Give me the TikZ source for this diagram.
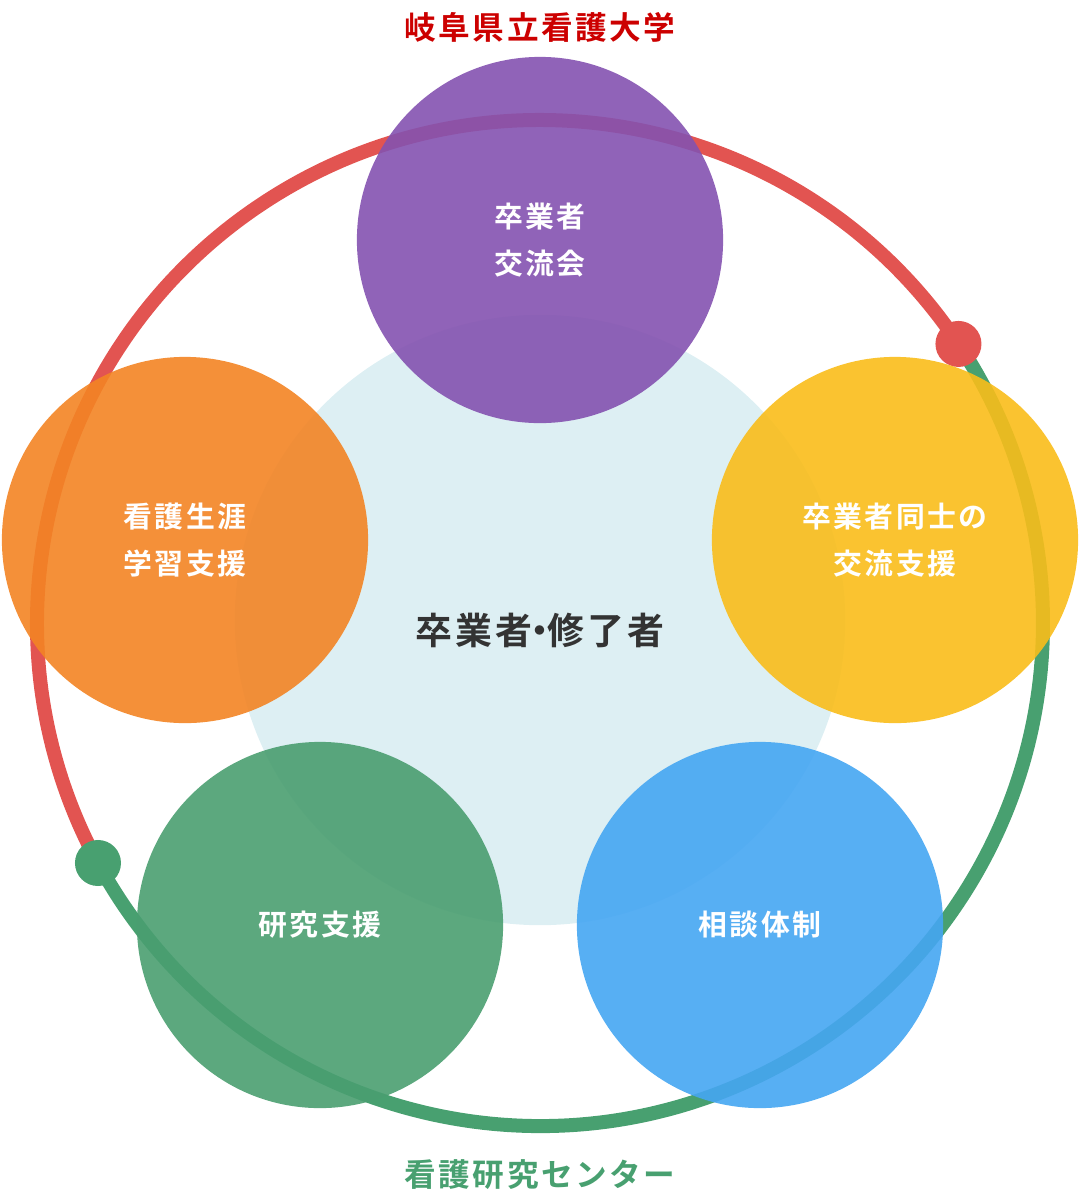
\documentclass[tikz,border=0pt]{standalone}
\usepackage{fontspec}
\setmainfont{Noto Sans CJK JP}[BoldFont={Noto Sans CJK JP Bold}, LetterSpace=8]
\usepackage{tikz}
\definecolor{ringred}{HTML}{E25451}
\definecolor{ringgreen}{HTML}{48A070}
\definecolor{pale}{HTML}{DDEFF3}
\definecolor{cpurple}{HTML}{8452B0}
\definecolor{corange}{HTML}{F38424}
\definecolor{cyellow}{HTML}{F9BD1A}
\definecolor{cgreen}{HTML}{4A9E70}
\definecolor{cblue}{HTML}{45A6F2}
\tikzset{
    bubble/.style = {circle, minimum size = 3.66cm, inner sep = 0pt,
        fill opacity = 0.9, text opacity = 1, text = white,
        align = center, font = \bfseries\fontsize{8.2}{13.5}\selectfont},
    ring/.style = {line width = 0.14cm},
    dot/.style = {circle, minimum size = 0.46cm, inner sep = 0pt}
}
\begin{document}
\begin{tikzpicture}[x=0.01cm, y=-0.01cm]
    \useasboundingbox (0,0) rectangle (1080,1202);

    \node[circle, fill = pale, minimum size = 6.1cm] (core) at (540,620) {};

    % outer ring
    \coordinate (ringc) at (540,623);
    \draw[ring, ringred] ([shift={(-33.7:503)}]ringc) arc[start angle = -33.7, end angle = -208.5, radius = 503];
    \draw[ring, ringgreen] ([shift={(-208.5:503)}]ringc) arc[start angle = -208.5, end angle = -393.7, radius = 503];
    \node[dot, fill = ringred] (dotA) at ([shift={(-33.7:503)}]ringc) {};
    \node[dot, fill = ringgreen] (dotB) at ([shift={(-208.5:503)}]ringc) {};

    \node[bubble, fill = cpurple] (meet) at (540,240) {卒業者\\交流会};
    \node[bubble, fill = corange] (learn) at (185,540) {看護生涯\\学習支援};
    \node[bubble, fill = cyellow] (peer) at (895,540) {卒業者同士の\\交流支援};
    \node[bubble, fill = cgreen] (research) at (320,925) {研究支援};
    \node[bubble, fill = cblue] (consult) at (760,925) {相談体制};

    \node[font = \bfseries\fontsize{10.5}{12}\selectfont, text = black!80] (grad) at (540,630) {卒業者\kern-0.3em・\kern-0.3em修了者};
    \node[font = \bfseries\fontsize{9}{10}\selectfont, text = red!80!black] (univ) at (540,27) {岐阜県立看護大学};
    \node[font = \bfseries\fontsize{9}{10}\selectfont, text = ringgreen] (center) at (540,1175) {看護研究センター};
\end{tikzpicture}
\end{document}
